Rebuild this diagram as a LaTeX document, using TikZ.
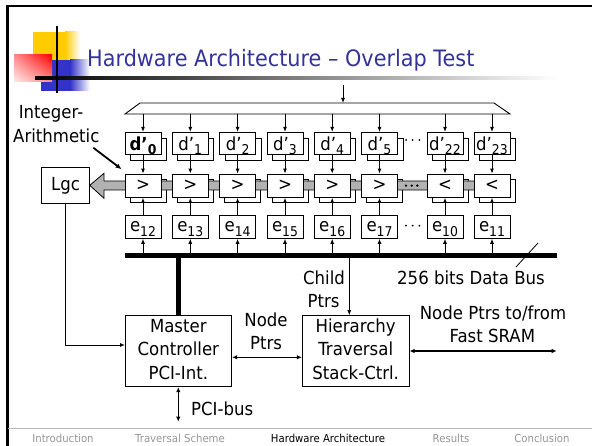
\documentclass[tikz,border=0pt]{standalone}
\usepackage{fontspec}
\setmainfont{DejaVu Sans}[FakeStretch=0.92]
\usetikzlibrary{arrows.meta,shadings}
\definecolor{titleblue}{RGB}{51,51,153}
\definecolor{logoyellow}{RGB}{255,204,0}
\definecolor{logoblue}{RGB}{51,51,204}
\definecolor{logored}{RGB}{255,0,0}
\definecolor{bargray}{RGB}{178,178,178}
\definecolor{footgray}{RGB}{150,150,150}
\newcommand{\dlab}[1]{d’\raisebox{-4.5pt}{\fontsize{13.5}{13.5}\selectfont #1}}
\newcommand{\elab}[1]{e\raisebox{-4.5pt}{\fontsize{13.5}{13.5}\selectfont #1}}
\begin{document}
\begin{tikzpicture}[x=1pt,y=-1pt,
  lbl/.style={inner sep=0pt, font=\fontsize{18}{22}\selectfont},
  foot/.style={inner sep=0pt, anchor=base, font=\fontsize{11}{13}\selectfont, text=footgray},
  bx/.style={draw, line width=0.9pt, inner sep=0pt, minimum width=36pt},
  dbox/.style={bx, fill=white, minimum height=21.7pt},
  cbox/.style={bx, fill=white, minimum height=23.3pt},
  ebox/.style={bx, fill=white, minimum height=23.3pt},
  backd/.style={bx, minimum height=21.7pt},
  backc/.style={bx, minimum height=23.3pt},
  bigbox/.style={draw, line width=0.9pt, inner sep=0pt},
  arr/.style={line width=0.9pt, -{Latex[length=5pt,width=4pt]}},
  darr/.style={line width=1.1pt, {Latex[length=5pt,width=4.5pt]}-{Latex[length=5pt,width=4.5pt]}},
  bus/.style={line width=5pt}
]
\useasboundingbox (0,0) rectangle (592,446);

% ---------- slide frame ----------
\draw[line width=2.5pt] (7.5,446) -- (7.5,6) -- (592,6);
\draw[line width=0.8pt, footgray!70] (8,428.3) -- (592,428.3);

% ---------- logo ----------
\fill[logoyellow] (33,32) rectangle (65,78);
\shade[left color=logoyellow, right color=white] (65,32) rectangle (80,78);
\fill[logoblue] (41,60) rectangle (70,91);
\shade[left color=logoblue, right color=white] (70,60) rectangle (90,91);
\shade[upper left=logored!45, upper right=logored, lower left=logored!8, lower right=logored!45] (14,55) rectangle (52,82);
\shade[left color=black, right color=white] (35,76.7) rectangle (557,79.3);
\draw[line width=2.5pt] (57,26) -- (57,93);

\node[anchor=base west, inner sep=0pt, text=titleblue, font=\fontsize{22.6}{27}\selectfont] (title) at (87,66.7) {Hardware Architecture – Overlap Test};

% ---------- footer ----------
\node[foot] (f1) at (63,442) {Introduction};
\node[foot] (f2) at (180,442) {Traversal Scheme};
\node[foot, text=black] (f3) at (328,442) {Hardware Architecture};
\node[foot] (f4) at (451,442) {Results};
\node[foot] (f5) at (542,442) {Conclusion};

% ---------- top distribution bus ----------
\coordinate (tbl) at (125,114);
\coordinate (ttl) at (140,103);
\coordinate (ttr) at (494,103);
\coordinate (tbr) at (510,114);
\draw[line width=0.9pt] (tbl) -- (ttl) -- (ttr) -- (tbr) -- cycle;
\coordinate (inp) at (343,85);
\draw[arr] (inp) -- (inp |- ttl);

% ---------- back boxes ----------
\foreach \i/\x in {0/143,1/190.3,2/237.6,3/285,4/332.2,5/379.5,22/445,23/492}{
  \node[backd] (db\i) at (\x+5.5,149.2) {};
  \node[backc] (cb\i) at (\x+5,191.2) {};
}

% ---------- Lgc ----------
\node[bigbox, minimum width=47.6pt, minimum height=36pt] (lgc) at (65.5,185.3) {};
\node[lbl, anchor=base] (lgct) at (65.5,191) {Lgc};

% ---------- grey result bar with arrow ----------
\draw[fill=bargray, line width=0.8pt] (lgc.east) -- (104,173.3) -- (104,181) -- (492,181) -- (492,190) -- (104,190) -- (104,198.3) -- cycle;
\foreach \x in {406,411.7,417.3}{ \fill (\x,185.6) circle (1.3pt); }

% ---------- front boxes ----------
\foreach \i/\x/\es/\cs in {0/143/12/>,1/190.3/13/>,2/237.6/14/>,3/285/15/>,4/332.2/16/>,5/379.5/17/>,22/445/10/<,23/492/11/<}{
  \node[dbox] (d\i) at (\x,143.2) {};
  \node[cbox] (c\i) at (\x,185.7) {};
  \node[ebox] (e\i) at (\x,226.7) {};
  \node[lbl] (ct\i) at (\x,185.7) {\cs};
  \node[lbl, anchor=base] (et\i) at (\x,231.7) {\elab{\es}};
  \draw[arr] (d\i.north |- tbl) -- (d\i.north);
  \draw[arr] (d\i.south) -- (c\i.north);
  \draw[arr] (e\i.north) -- (c\i.south);
}
\node[lbl, anchor=base] (dt0) at (143,150.5) {\bfseries\dlab{0}};
\foreach \i/\x in {1/190.3,2/237.6,3/285,4/332.2,5/379.5,22/445,23/492}{
  \node[lbl, anchor=base] (dt\i) at (\x,150.5) {\dlab{\i}};
}
\foreach \x in {406,412.7,419.3}{
  \fill (\x,140) circle (1pt);
  \fill (\x,225.7) circle (1pt);
}

% ---------- data bus ----------
\coordinate (busL) at (125,256);
\coordinate (busR) at (557,256);
\foreach \i in {0,1,2,3,4,5,22,23}{ \draw[arr] (e\i.south |- busL) -- (e\i.south); }
\draw[bus] (busL) -- (busR);
\draw[line width=0.8pt] (516,267) -- (538,243);
\node[lbl, anchor=base west] (busl) at (397,285) {256 bits Data Bus};

% ---------- Integer-Arithmetic ----------
\node[lbl, anchor=base] (ia1) at (51,119) {Integer-};
\node[lbl, anchor=base] (ia2) at (56.3,142.7) {Arithmetic};
\coordinate (iaS) at (93.3,147.7);
\coordinate (iaE) at (121.7,169.3);
\draw[line width=1.8pt, -{Latex[length=6pt,width=5pt]}] (iaS) -- (iaE);

% ---------- controllers ----------
\node[bigbox, minimum width=106.7pt, minimum height=71pt] (mc) at (178.3,351.2) {};
\node[lbl, anchor=base] (mc1) at (178.3,332.5) {Master};
\node[lbl, anchor=base] (mc2) at (178.3,356) {Controller};
\node[lbl, anchor=base] (mc3) at (178.3,380) {PCI-Int.};

\node[bigbox, minimum width=106.7pt, minimum height=71pt] (ht) at (355.7,351.2) {};
\node[lbl, anchor=base] (ht1) at (355.7,332.5) {Hierarchy};
\node[lbl, anchor=base] (ht2) at (355.7,356) {Traversal};
\node[lbl, anchor=base] (ht3) at (355.7,380) {Stack-Ctrl.};

\draw[bus] (mc.north |- busL) -- (mc.north);

\coordinate (cp) at (349.3,256);
\draw[arr] (cp) -- (cp |- ht.north);
\node[lbl, anchor=base] (cp1) at (324,285) {Child};
\node[lbl, anchor=base] (cp2) at (323.5,308) {Ptrs};

\coordinate (lgcin) at (125,345);
\draw[arr] (lgc.south) |- (lgcin);

\coordinate (np) at (0,357.3);
\draw[darr] (mc.east |- np) -- (ht.west |- np);
\node[lbl, anchor=base] (np1) at (266,326.7) {Node};
\node[lbl, anchor=base] (np2) at (266,350) {Ptrs};

\coordinate (sram) at (556.7,351);
\draw[darr] (ht.east |- sram) -- (sram);
\node[lbl, anchor=base] (sr1) at (493,320) {Node Ptrs to/from};
\node[lbl, anchor=base] (sr2) at (492.3,343) {Fast SRAM};

\coordinate (pci) at (178.3,421.7);
\draw[darr] (mc.south) -- (pci);
\node[lbl, anchor=base west] (pcit) at (191,415) {PCI-bus};
\end{tikzpicture}
\end{document}
